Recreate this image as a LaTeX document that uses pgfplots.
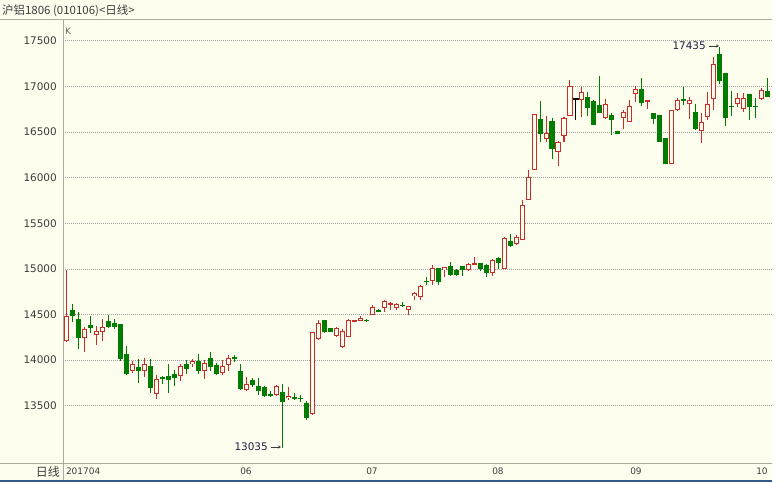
\documentclass[border=0pt]{standalone}
\usepackage{pgfplots}
\pgfplotsset{compat=1.18}
\usepackage{pgfplotstable}
\usetikzlibrary{arrows.meta}
\usepackage{fontspec}
\setmainfont{DejaVu Sans}
\newfontfamily\cjk{Noto Sans CJK SC}
\definecolor{bg}{RGB}{254,254,238}
\definecolor{upred}{RGB}{200,45,40}
\definecolor{dngreen}{RGB}{0,125,0}
\definecolor{gridc}{RGB}{160,160,160}
\definecolor{axc}{RGB}{170,170,160}
\definecolor{txt}{RGB}{60,60,60}
\definecolor{navy}{RGB}{30,30,70}
\definecolor{blueline}{RGB}{50,90,140}

\pgfplotstableread{
k o h l c
0 14211 14993 14200 14480
3 14247 14364 14084 14345
5 14280 14375 14164 14324
6 14313 14455 14211 14367
11 13876 13989 13862 13953
13 13876 14018 13811 13953
15 13626 13836 13571 13789
19 13829 13956 13775 13935
21 13953 14015 13927 13986
23 13884 14000 13793 13964
26 13855 14000 13836 13935
27 13946 14055 13884 14018
30 13673 13811 13662 13735
35 13620 13729 13602 13718
37 13584 13711 13558 13609
41 13409 14311 13402 14304
42 14227 14445 14220 14402
45 14267 14365 14256 14347
46 14140 14336 14129 14322
47 14249 14456 14249 14445
48 14430 14445 14420 14438
49 14431 14482 14424 14467
51 14500 14605 14490 14585
53 14573 14664 14526 14653
54 14609 14635 14551 14628
55 14573 14624 14544 14617
57 14551 14598 14496 14595
58 14704 14745 14661 14734
59 14697 14818 14661 14807
61 14865 15047 14828 15011
63 14989 15026 14916 15018
67 14989 15066 14974 15055
68 15051 15135 15051 15066
71 14953 15110 14927 15099
73 15000 15347 15000 15339
75 15268 15368 15259 15350
76 15317 15756 15317 15701
77 15756 16085 15756 16005
78 16085 16696 16085 16696
80 16422 16678 16385 16488
82 16279 16396 16129 16385
83 16451 16663 16385 16652
84 16678 17073 16678 17007
86 16846 16993 16663 16934
90 16652 16861 16642 16810
93 16650 16744 16532 16716
94 16609 16846 16609 16780
95 16915 17005 16833 16968
97 16827 16849 16757 16849
101 16154 16746 16147 16739
102 16746 16867 16732 16849
104 16801 16885 16637 16849
106 16509 16703 16381 16604
107 16659 16940 16629 16805
108 16856 17317 16739 17244
112 16805 16922 16776 16867
113 16750 16922 16721 16867
116 16856 16977 16849 16959
}\upcandles

\pgfplotstableread{
k o h l c
1 14545 14611 14418 14484
2 14455 14527 14120 14244
4 14382 14480 14298 14353
7 14425 14498 14353 14364
8 14404 14447 14345 14364
9 14393 14393 13993 14011
10 14065 14153 13836 13847
12 13920 14018 13745 13884
14 13935 14018 13644 13691
16 13811 13825 13735 13789
17 13825 13953 13644 13782
18 13847 13891 13720 13807
20 13953 14000 13844 13906
22 13993 14062 13844 13884
24 14018 14091 13884 13927
25 13946 13964 13836 13844
28 14029 14055 13982 14007
29 13880 13953 13673 13680
31 13782 13800 13710 13727
32 13718 13809 13613 13664
33 13711 13718 13595 13609
34 13631 13667 13595 13616
36 13649 13736 13035 13540
38 13595 13638 13558 13584
39 13587 13620 13536 13573
40 13529 13547 13340 13366
43 14438 14438 14293 14304
44 14347 14355 14305 14311
50 14445 14455 14420 14424
52 14551 14560 14530 14536
56 14609 14635 14580 14595
60 14872 14909 14818 14854
62 15011 15011 14828 14854
64 15036 15073 14927 14934
65 14989 15000 14927 14934
66 15036 15036 14927 14989
69 15066 15066 14974 15000
70 15047 15055 14916 14953
72 15120 15128 15000 15066
74 15300 15385 15235 15252
79 16642 16835 16385 16481
81 16623 16652 16203 16312
87 16883 16934 16678 16762
88 16835 16854 16576 16576
89 16799 17110 16707 16707
91 16689 16707 16470 16627
92 16513 16513 16481 16481
96 16966 17087 16783 16820
98 16703 16703 16586 16637
99 16684 16684 16392 16392
100 16436 16436 16154 16154
103 16860 16988 16794 16838
105 16721 16805 16520 16538
109 17354 17435 17024 17061
110 17142 17142 16564 16648
111 16790 16951 16673 16776
114 16911 16911 16629 16776
115 16790 16867 16648 16776
117 16951 17087 16878 16878
}\downcandles

\pgfplotstableread{
k o h l c
85 16861 16861 16627 16861
}\dojicandles

\pgfplotsset{candle/.style={only marks, mark=*, mark size=0pt, mark options={draw opacity=0, fill opacity=0}, forget plot}}

\begin{document}
\begin{tikzpicture}[x=1bp,y=1bp]
\useasboundingbox (0,0) rectangle (781,483);
\fill[white] (0,0) rectangle (781,483);
\fill[bg] (0,0) rectangle (772,483);
\draw[axc, line width=1bp] (0,463) -- (772,463);
\draw[axc, line width=1bp] (0,19) -- (772,19);
\draw[axc, line width=1bp] (63,2) -- (63,463);
\draw[blueline, line width=1.6bp] (0,1.8) -- (772,1.8);
\node[anchor=west, text=txt, inner sep=0pt, font=\cjk\fontsize{11.5}{12}\selectfont] at (2,472) {沪铝1806 (010106)<日线>};
\node[anchor=east, text=txt, inner sep=0pt, font=\cjk\fontsize{12}{12}\selectfont] at (60,11) {日线};
\node[anchor=west, text=txt!80, inner sep=0pt, font=\fontsize{9}{10}\selectfont] at (65,452) {K};

\begin{axis}[
  at={(63bp,20bp)}, anchor=south west,
  scale only axis, width=709bp, height=443bp,
  xmin=-0.5, xmax=117.67, ymin=12873, ymax=17727,
  axis line style={draw=none},
  clip=false,
  major tick length=0pt,
  ytick={13500,14000,...,17500},
  scaled y ticks=false,
  ymajorgrids,
  grid style={gridc, dash pattern=on 1bp off 1bp, line width=0.6bp},
  /pgf/number format/assume math mode=true,
  /pgf/number format/1000 sep={},
  yticklabel style={font=\fontsize{10.5}{12}\selectfont, text=txt, anchor=east, inner sep=0pt, xshift=-6bp, /pgf/number format/fixed, /pgf/number format/precision=0},
  xtick={0,30,51,72,95,116},
  xticklabels={\rlap{201704},06,07,08,09,10},
  xticklabel style={font=\fontsize{9}{10}\selectfont, text=txt, anchor=north, inner sep=0pt, yshift=-4.5bp},
]
% up candles
\addplot[candle, error bars/.cd, y dir=both, y explicit, error mark=none, error bar style={upred, line width=1bp}]
  table[x=k, y expr={(\thisrow{h}+\thisrow{l})/2}, y error expr={(\thisrow{h}-\thisrow{l})/2}] {\upcandles};
\addplot[candle, error bars/.cd, y dir=both, y explicit, error mark=none, error bar style={upred, line width=5bp}]
  table[x=k, y expr={(\thisrow{o}+\thisrow{c})/2}, y error expr={max(abs(\thisrow{c}-\thisrow{o})/2,6)}] {\upcandles};
\addplot[candle, error bars/.cd, y dir=both, y explicit, error mark=none, error bar style={bg, line width=3bp}]
  table[x=k, y expr={(\thisrow{o}+\thisrow{c})/2}, y error expr={max(abs(\thisrow{c}-\thisrow{o})/2-11,0)}] {\upcandles};
% down candles
\addplot[candle, error bars/.cd, y dir=both, y explicit, error mark=none, error bar style={dngreen, line width=1bp}]
  table[x=k, y expr={(\thisrow{h}+\thisrow{l})/2}, y error expr={(\thisrow{h}-\thisrow{l})/2}] {\downcandles};
\addplot[candle, error bars/.cd, y dir=both, y explicit, error mark=none, error bar style={dngreen, line width=5bp}]
  table[x=k, y expr={(\thisrow{o}+\thisrow{c})/2}, y error expr={max(abs(\thisrow{c}-\thisrow{o})/2,6)}] {\downcandles};
% doji
\addplot[candle, error bars/.cd, y dir=both, y explicit, error mark=none, error bar style={black, line width=1bp}]
  table[x=k, y expr={(\thisrow{h}+\thisrow{l})/2}, y error expr={(\thisrow{h}-\thisrow{l})/2}] {\dojicandles};
\addplot[candle, error bars/.cd, y dir=both, y explicit, error mark=none, error bar style={black, line width=5bp}]
  table[x=k, y expr={(\thisrow{o}+\thisrow{c})/2}, y error expr={6}] {\dojicandles};
\end{axis}

\node[anchor=east, text=navy, inner sep=0pt, font=\fontsize{10.5}{12}\selectfont] at (268,36) {13035};
\draw[txt, line width=0.7bp, -{Stealth[length=3bp,width=3bp]}] (271,36) -- (281,36);
\node[anchor=east, text=navy, inner sep=0pt, font=\fontsize{10.5}{12}\selectfont] at (706,437) {17435};
\draw[txt, line width=0.7bp, -{Stealth[length=3bp,width=3bp]}] (709,437) -- (719,437);
\end{tikzpicture}
\end{document}
